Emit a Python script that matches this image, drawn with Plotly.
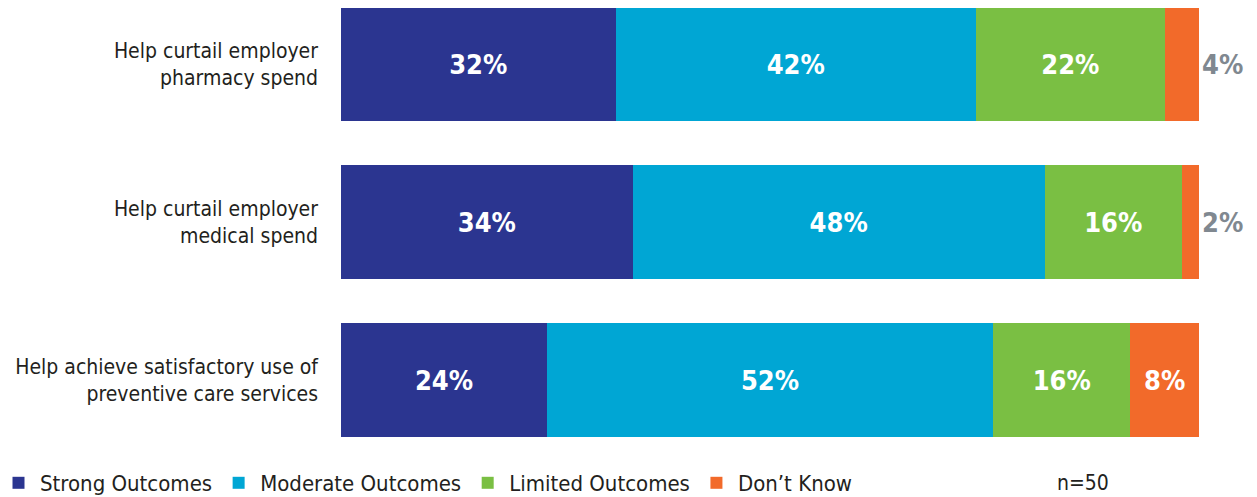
import plotly.graph_objects as go

categories = [
    "Help curtail employer<br>pharmacy spend",
    "Help curtail employer<br>medical spend",
    "Help achieve satisfactory use of<br>preventive care services",
]
series_names = ["Strong Outcomes", "Moderate Outcomes", "Limited Outcomes", "Don\u2019t Know"]
strong = [32, 34, 24]
moderate = [42, 48, 52]
limited = [22, 16, 16]
dont_know = [4, 2, 8]
colors = ["#2B3590", "#00A6D4", "#7ABF43", "#F26A2A"]
sample_note = "n=50"

FONT = "DejaVu Sans Condensed, Liberation Sans Narrow, sans-serif"
TEXT_COLOR = "#231F20"

# figure is drawn with the page's 8px body margin; sizes compensate for that
W, H = 1249, 489
L, R, T, B = 333, 58, 0, 37
PW, PH = W - L - R, H - T - B

fig = go.Figure()
all_vals = [strong, moderate, limited, dont_know]
for i, (name, vals) in enumerate(zip(series_names, all_vals)):
    if i == 3:
        tp = ["inside" if v >= 5 else "outside" for v in vals]
    else:
        tp = "inside"
    fig.add_trace(go.Bar(
        y=categories, x=vals, name=name, orientation="h",
        marker=dict(color=colors[i], line=dict(width=0)),
        text=[f"{v}%" for v in vals],
        textposition=tp,
        insidetextanchor="middle",
        insidetextfont=dict(family=FONT, size=27, color="white", weight="bold"),
        outsidetextfont=dict(family=FONT, size=27, color="#808890", weight="bold"),
        constraintext="none",
        cliponaxis=False,
        hoverinfo="skip",
    ))

fig.add_annotation(
    text=sample_note, xref="paper", yref="paper", x=(1075 - L) / PW, y=-(475 - PH) / PH,
    showarrow=False, font=dict(family=FONT, size=21, color=TEXT_COLOR),
    xanchor="center", yanchor="middle",
)

top = -56 / 158
bottom = top + PH / 158

fig.update_layout(
    width=W, height=H,
    barmode="stack", bargap=0.28,
    margin=dict(l=L, r=R, t=T, b=B, autoexpand=False),
    paper_bgcolor="white", plot_bgcolor="white",
    font=dict(family=FONT, size=21, color=TEXT_COLOR),
    xaxis=dict(range=[0, 100], visible=False, fixedrange=True),
    yaxis=dict(range=[bottom, top], ticks="", showgrid=False, showline=False,
               zeroline=False, ticklabelstandoff=22, automargin=False,
               tickfont=dict(family=FONT, size=21, color=TEXT_COLOR)),
    legend=dict(orientation="h", xref="paper", yref="paper",
                x=(-11 - L) / PW, xanchor="left", y=-(475 - PH) / PH, yanchor="middle",
                font=dict(family=FONT, size=22, color=TEXT_COLOR),
                traceorder="normal", itemwidth=33),
    showlegend=True,
)

fig.write_html("out.html")
